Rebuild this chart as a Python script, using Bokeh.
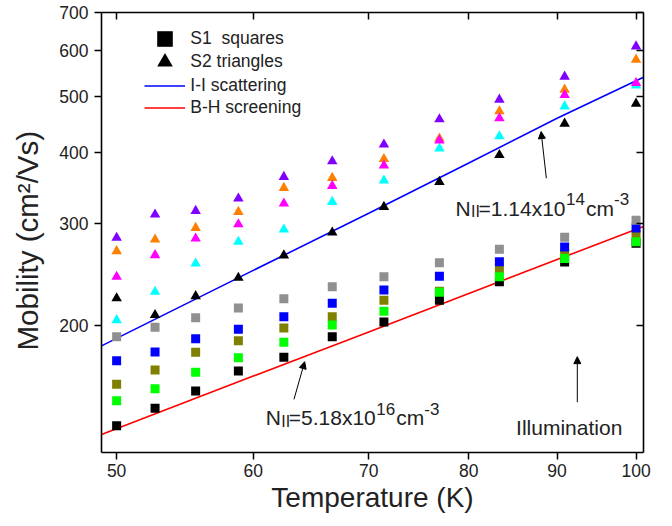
from bokeh.plotting import figure
from bokeh.models import (Range1d, LogAxis, FixedTicker, PrintfTickFormatter,
                          Legend, LegendItem, Label, Arrow, NormalHead)
from bokeh.embed import file_html
from bokeh.resources import INLINE

# ---------------- data ----------------
temperature = [50.0, 52.63, 55.56, 58.82, 62.5, 66.67, 71.43, 76.92, 83.33, 90.91, 100.0]

# S2 (triangles)
s2_purple = [283.7, 311.5, 316.0, 332.1, 362.2, 385.6, 412.3, 456.2, 493.7, 541.3, 611.0]
s2_orange = [269.0, 281.8, 295.2, 314.8, 346.6, 360.7, 389.2, 422.3, 471.1, 513.9, 579.4]
s2_magenta = [242.7, 264.7, 283.0, 299.6, 325.5, 349.4, 379.0, 419.0, 458.0, 502.9, 527.6]
s2_cyan = [204.0, 228.5, 256.0, 279.2, 293.3, 327.6, 357.0, 405.8, 426.2, 480.5, 522.7]
s2_black = [222.6, 208.2, 224.6, 241.7, 264.4, 289.9, 321.1, 355.0, 395.5, 448.4, 485.8]

# S1 (squares)
s1_gray = [190.9, 198.2, 205.9, 214.1, 222.2, 233.1, 242.7, 256.7, 271.1, 284.5, 304.5]
s1_blue = [173.4, 179.5, 189.3, 196.6, 206.8, 218.2, 230.1, 243.3, 257.7, 273.6, 295.2]
s1_olive = [157.8, 167.0, 179.3, 187.8, 197.6, 206.8, 221.0, 229.0, 249.3, 266.5, 287.6]
s1_green = [147.7, 155.0, 165.5, 175.5, 186.6, 200.0, 211.3, 228.0, 242.7, 261.2, 279.2]
s1_black = [133.6, 143.3, 153.6, 166.4, 175.7, 190.9, 202.4, 221.0, 237.9, 257.4, 277.5]

# model curves
line_temperature = [49, 60, 70, 80, 90, 101]
ii_scattering = [184, 249, 313, 383, 458, 540]
bh_screening = [129, 163, 194.6, 227, 260, 297]

x_ticks = [50, 60, 70, 80, 90, 100]
y_ticks = [200, 300, 400, 500, 600, 700]

legend_labels = ["S1  squares", "S2 triangles", "I-I scattering", "B-H screening"]

FONT = "Liberation Sans"
TXT = "#222222"

p = figure(width=672, height=526, x_axis_type="log", y_axis_type="log",
           x_range=Range1d(49, 101), y_range=Range1d(120, 700),
           output_backend="svg", toolbar_location=None,
           min_border_left=101, min_border_right=29, min_border_top=12, min_border_bottom=74)
p.xgrid.visible = False
p.ygrid.visible = False
p.outline_line_color = None
p.background_fill_color = "white"
p.border_fill_color = "white"


def style_axis(ax, ticks, tick_in, tick_out, show_labels):
    ax.ticker = FixedTicker(ticks=ticks, minor_ticks=[])
    ax.formatter = PrintfTickFormatter(format="%d")
    ax.axis_line_color = "black"
    ax.axis_line_width = 1.6
    ax.major_tick_line_color = "black"
    ax.major_tick_line_width = 1.5
    ax.major_tick_in = tick_in
    ax.major_tick_out = tick_out
    ax.minor_tick_line_color = None
    ax.major_label_text_font = FONT
    if show_labels:
        ax.major_label_text_color = TXT
        ax.major_label_text_font_size = "17.5px"
    else:
        ax.major_label_text_color = None
        ax.major_label_text_font_size = "1px"
        ax.major_label_standoff = 0


xa = p.xaxis[0]
ya = p.yaxis[0]
style_axis(xa, x_ticks, 0, 7, True)
style_axis(ya, y_ticks, 0, 7, True)
xa.major_label_standoff = 4
ya.major_label_standoff = 6
xa.axis_label = "Temperature (K)"
# trailing no-break spaces nudge the centred title down, as in the reference
ya.axis_label = "Mobility (cm\u00b2/Vs)\u00a0\u00a0"
for ax, size in ((xa, "28px"), (ya, "29.5px")):
    ax.axis_label_text_font = FONT
    ax.axis_label_text_font_size = size
    ax.axis_label_text_font_style = "normal"
    ax.axis_label_text_color = TXT
xa.axis_label_standoff = 2
ya.axis_label_standoff = 12

top_ax = LogAxis()
style_axis(top_ax, x_ticks, 7, 0, False)
p.add_layout(top_ax, "above")
right_ax = LogAxis()
style_axis(right_ax, y_ticks, 7, 0, False)
p.add_layout(right_ax, "right")

# model lines
r_ii = p.line(line_temperature, ii_scattering, line_color="#0000FF", line_width=1.6)
r_bh = p.line(line_temperature, bh_screening, line_color="#FF0000", line_width=1.6)

# squares
sq_renderers = []
for vals, col in [(s1_black, "black"), (s1_olive, "#808000"), (s1_green, "#00FF00"),
                  (s1_blue, "#0000FF"), (s1_gray, "#909090")]:
    sq_renderers.append(p.scatter(temperature, vals, marker="square", size=9,
                                  fill_color=col, line_color=None))

# triangles
tri_renderers = []
for vals, col in [(s2_black, "black"), (s2_cyan, "#00FFFF"), (s2_orange, "#FF8000"),
                  (s2_magenta, "#FF00FF"), (s2_purple, "#8000FF")]:
    tri_renderers.append(p.scatter(temperature, vals, marker="triangle", size=10.5,
                                   fill_color=col, line_color=None))

legend_rows = [(sq_renderers[0], 393.9), (tri_renderers[0], 371.5), (r_ii, 347.2), (r_bh, 325.5)]
for (rend, vy), lab in zip(legend_rows, legend_labels):
    lg = Legend(items=[LegendItem(label=lab, renderers=[rend], index=0)], location=(43.3, vy),
                glyph_width=41, glyph_height=39, label_standoff=5, padding=0, margin=0,
                spacing=0, border_line_color=None, background_fill_alpha=0,
                label_text_font=FONT, label_text_font_size="17.5px", label_text_color=TXT)
    p.add_layout(lg)


def rich_label(x, y, pieces):
    for txt, dx, dy, size in pieces:
        p.add_layout(Label(x=x, y=y, x_offset=dx, y_offset=dy, text=txt,
                           text_font=FONT, text_font_size=f"{size}px", text_color=TXT,
                           text_baseline="alphabetic", text_align="left"))


rich_label(78.59, 319.1, [("N", 0, 0, 21), ("II", 15.5, -3.5, 16), ("=1.14x10", 23, 0, 21),
                          ("14", 110.5, 9, 17), ("cm", 130.5, 0, 21), ("-3", 158.5, 9, 17)])
rich_label(61.01, 138.0, [("N", 0, 0, 21), ("II", 15.5, -3.5, 16), ("=5.18x10", 23, 0, 21),
                          ("16", 110.5, 9, 17), ("cm", 130.5, 0, 21), ("-3", 158.5, 9, 17)])
rich_label(85.21, 132.8, [("Illumination", 0, 0, 21)])

for xs, ys, xe, ye in [(88.72, 360.2, 88.1, 434.3), (63.35, 148.5, 64.26, 172.7),
                       (92.46, 146.8, 92.46, 176.2)]:
    p.add_layout(Arrow(end=NormalHead(size=7, fill_color="black", line_color="black", line_width=1),
                       x_start=xs, y_start=ys, x_end=xe, y_end=ye,
                       line_color="black", line_width=1))

open("out.html", "w").write(file_html(p, INLINE))
